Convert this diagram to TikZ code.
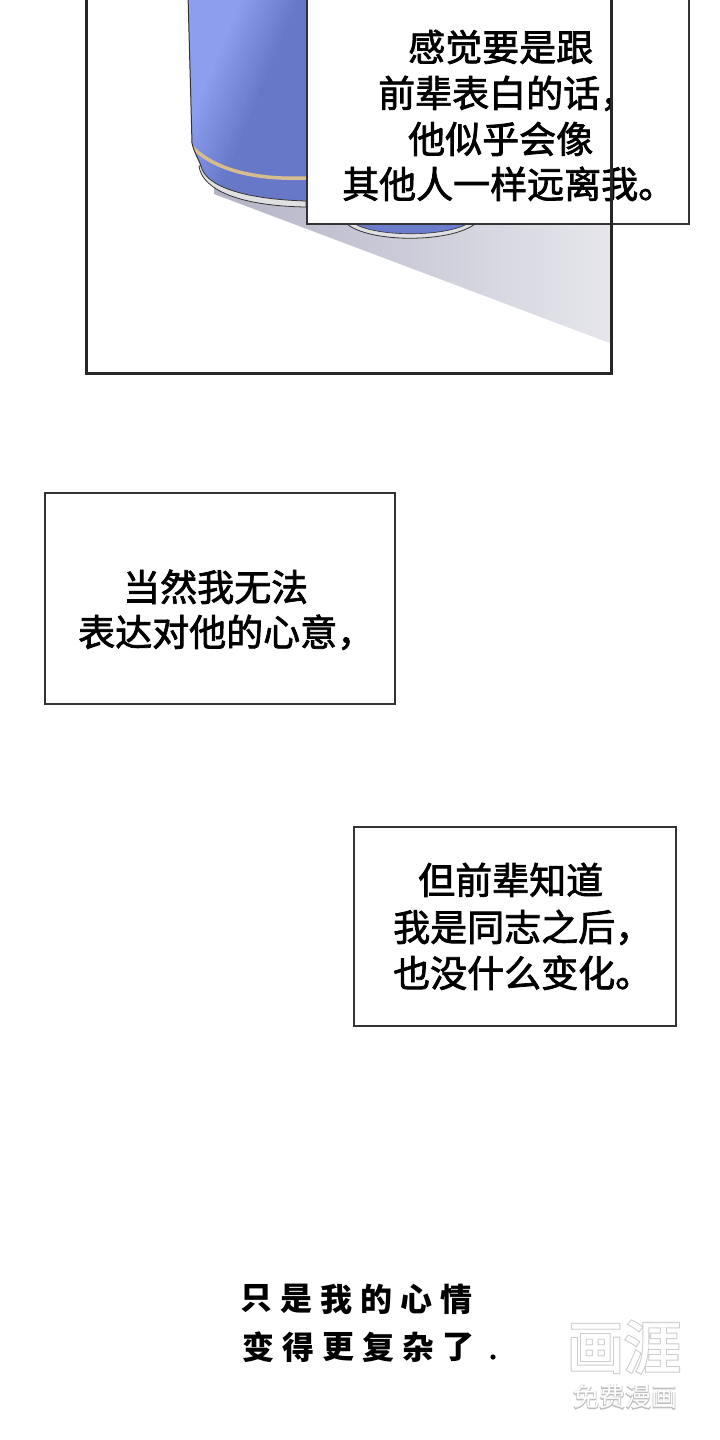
\documentclass[tikz,border=0pt]{standalone}
\usepackage{fontspec}
\newfontfamily\cjk{Noto Sans CJK SC}
\newfontfamily\cjkm[FakeBold=2]{Noto Sans CJK SC}
\newfontfamily\cjkglow[FakeBold=5]{Noto Sans CJK SC}
\newfontfamily\cjkwm[FakeBold=1.5]{Noto Sans CJK SC}
\definecolor{canmid}{HTML}{8090E2}
\definecolor{canlight}{HTML}{8D9EEE}
\definecolor{candark}{HTML}{6878C9}
\definecolor{gold}{HTML}{D6BC8E}
\definecolor{rim}{HTML}{E0E0E2}
\definecolor{edge}{HTML}{333333}
\definecolor{shadowA}{HTML}{B3B3C7}
\definecolor{shadowB}{HTML}{E6E6EC}
\tikzset{
  captxt/.style={font=\cjkm\fontsize{37}{37}\selectfont, inner sep=0pt, anchor=base west},
  handtxt/.style={font=\cjk\bfseries\fontsize{32}{32}\selectfont, inner sep=0pt},
  textbox/.style={draw=edge, line width=1.4pt, fill=white},
  panel/.style={draw=black!85, line width=3pt}
}
\begin{document}
\begin{tikzpicture}[x=1pt,y=-1pt]
\useasboundingbox (0,0) rectangle (720,1440);
\fill[white] (0,0) rectangle (720,1440);

% ---------- top panel content ----------
\begin{scope}
\clip (86,0) rectangle (611,373);
% shadow
\shade[left color=shadowA, right color=shadowB]
  (214,194) -- (611,343.5) -- (611,190) -- (214,180) -- cycle;
% can bottom seen below the box
\fill[rim, draw=edge, line width=0.8pt] (347,224) .. controls (370,243) and (450,243) .. (475,224) -- cycle;
\fill[candark!85!canmid, draw=edge, line width=0.6pt] (355,224) .. controls (378,237) and (443,237) .. (467,224) -- cycle;
% can body
\begin{scope}
\clip (188,-5) -- (192,143) .. controls (194,152) and (198,158) .. (201,166)
      .. controls (205,185) and (240,199) .. (306,201) -- (306,-5) -- cycle;
\fill[canlight] (185,-5) rectangle (306,210);
\foreach \k in {0,...,54} {
  \pgfmathsetmacro\u{150+5*\k}
  \pgfmathsetmacro\p{max(0,min(100,(300-\u)*100/60))}
  \fill[canlight!\p!candark] (\u-1,-5) -- (\u+7,-5) -- (\u-81,210) -- (\u-89,210) -- cycle;
}
\draw[gold, line width=3.5pt] (192,147) .. controls (215,170) and (255,180) .. (306,178);
\end{scope}
% rim of the can
\fill[rim, draw=edge, line width=0.8pt] (199,166) .. controls (202,190) and (240,206) .. (306,207)
   -- (306,201) .. controls (240,199) and (205,185) .. (201,166) -- cycle;
\draw[edge, line width=1pt] (188,-5) -- (192,143) .. controls (194,152) and (198,158) .. (201,166);
\end{scope}

% text box 1
\draw[textbox] (307,-5) rectangle (689,224);
\node[captxt] (t1a) at (408,61) {感觉要是跟};
\node[captxt] (t1b) at (378,107) {前辈表白的话，};
\node[captxt] (t1c) at (408,153) {他似乎会像};
\node[captxt] (t1d) at (342,198) {其他人一样远离我。};

% panel frame
\draw[panel] (86,-10) rectangle (611.5,373.5);

% text box 2
\draw[textbox] (45,493) rectangle (395,704);
\node[captxt] (t2a) at (123,601) {当然我无法};
\node[captxt] (t2b) at (78,646) {表达对他的心意，};

% text box 3
\draw[textbox] (354,827) rectangle (676,1026);
\node[captxt] (t3a) at (418,894) {但前辈知道};
\node[captxt] (t3b) at (393,941) {我是同志之后，};
\node[captxt] (t3c) at (393,987) {也没什么变化。};

% free text
\foreach \ch [count=\i from 0] in {只,是,我,的,心,情}
  \node[handtxt] (h1\i) at (256+40*\i,1299) {\ch};
\foreach \ch [count=\i from 0] in {变,得,更,复,杂,了}
  \node[handtxt] (h2\i) at (258+40*\i,1347) {\ch};
\fill[black] (493,1357) circle (2.6);

% watermark
\node[font=\cjkglow\fontsize{57}{57}\selectfont, inner sep=0pt, text=black!20] (wg1) at (624,1347) {画涯};
\node[font=\cjkglow\fontsize{26}{26}\selectfont, inner sep=0pt, text=black!25] (wg2) at (625,1397) {免费漫画};
\node[font=\cjkwm\fontsize{57}{57}\selectfont, inner sep=0pt, text=white] (wm1) at (624,1347) {画涯};
\node[font=\cjk\fontsize{26}{26}\selectfont, inner sep=0pt, text=white] (wm2) at (625,1397) {免费漫画};
\end{tikzpicture}
\end{document}
